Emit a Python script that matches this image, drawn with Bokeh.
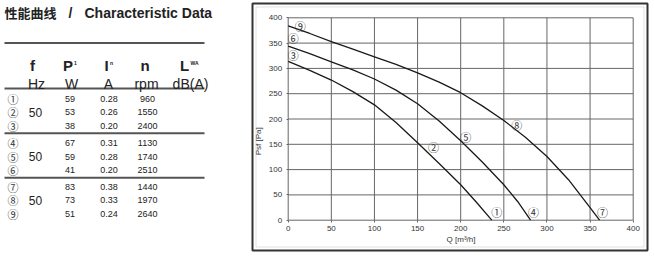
from bokeh.plotting import figure
from bokeh.layouts import row, column
from bokeh.models import Range1d, FixedTicker, BoxAnnotation
from bokeh.core.properties import value
from bokeh.embed import file_html
from bokeh.resources import INLINE

# ---------------- data ----------------
marks = ["①", "②", "③", "④", "⑤", "⑥", "⑦", "⑧", "⑨"]
freq = ["50", "50", "50"]
power_w = ["59", "53", "38", "67", "59", "41", "83", "73", "51"]
current_a = ["0.28", "0.26", "0.20", "0.31", "0.28", "0.20", "0.38", "0.33", "0.24"]
speed_rpm = ["960", "1550", "2400", "1130", "1740", "2510", "1440", "1970", "2640"]
units = ["Hz", "W", "A", "rpm", "dB(A)"]

q_curve3 = [0, 25, 50, 75, 100, 125, 150, 175, 200, 218, 236]
p_curve3 = [314, 296, 277, 254, 228, 193, 153, 112, 70, 36, 0]
q_curve6 = [0, 25, 50, 75, 100, 125, 150, 175, 200, 225, 250, 266, 281]
p_curve6 = [344, 329, 313, 297, 279, 257, 230, 196, 157, 115, 70, 37, 0]
q_curve9 = [0, 25, 50, 75, 100, 125, 150, 175, 200, 225, 250, 275, 300, 325, 350, 361]
p_curve9 = [384, 369, 353, 338, 323, 308, 291, 273, 252, 226, 197, 164, 126, 80, 25, 0]

start_marks = ["③", "⑥", "⑨"]
end_marks = ["①", "④", "⑦"]
mid_marks = ["②", "⑤", "⑧"]
mid_q = [150, 200, 250]
tick_values = [0, 50, 100, 150, 200, 250, 300, 350, 400]
y_title = "Psf [Pa]"
x_title = "Q [m³/h]"

FONT = value("Liberation Sans")
CJK = value("Noto Sans CJK SC")
INK = "#222222"

# ---------------- table (left) ----------------
t = figure(width=250, height=256, x_range=Range1d(0, 250), y_range=Range1d(256, 0),
           output_backend="svg", toolbar_location=None, title=None,
           x_axis_location=None, y_axis_location=None,
           min_border=0, outline_line_color=None)
t.grid.visible = False

t.text(x=[4], y=[12], text=["性能曲线"], text_font=CJK, text_font_style="bold",
       text_font_size="13px", text_baseline="middle", text_color=INK)
t.text(x=[70], y=[12], text=["/"], text_font=FONT, text_font_style="bold",
       text_font_size="14px", text_baseline="middle", text_align="center", text_color=INK)
t.text(x=[84], y=[12], text=["Characteristic Data"], text_font=FONT, text_font_style="bold",
       text_font_size="14px", text_baseline="middle", text_color=INK)

rule_y = [42.5, 88, 132.7, 177.3]
t.segment(x0=[4] * 4, x1=[204] * 4, y0=rule_y, y1=rule_y, line_width=2, line_color="#555555")

# header row 1
t.text(x=[32, 67.5, 106, 144.5, 184], y=[65] * 5, text=["f", "P", "I", "n", "L"],
       text_font=FONT, text_font_style="bold", text_font_size="15px",
       text_align="center", text_baseline="alphabetic", text_color=INK)
t.text(x=[75, 111, 194], y=[62] * 3, text=["1", "n", "WA"],
       text_font=FONT, text_font_style="bold", text_font_size="5px",
       text_align="center", text_baseline="alphabetic", text_color=INK)
# header row 2
t.text(x=[36, 71, 108, 146, 190], y=[83] * 5, text=units,
       text_font=FONT, text_font_size="14px",
       text_align="center", text_baseline="alphabetic", text_color=INK)

group_top = [98, 142.5, 186]
step = 13.5
row_y = [g + k * step for g in group_top for k in range(3)]
t.text(x=[12.5] * 9, y=row_y, text=marks, text_font=CJK, text_font_size="11px",
       text_align="center", text_baseline="middle", text_color="#333333")
t.text(x=[69.5] * 9, y=row_y, text=power_w, text_font=FONT, text_font_size="9px",
       text_align="center", text_baseline="middle", text_color=INK)
t.text(x=[108.5] * 9, y=row_y, text=current_a, text_font=FONT, text_font_size="9px",
       text_align="center", text_baseline="middle", text_color=INK)
t.text(x=[147] * 9, y=row_y, text=speed_rpm, text_font=FONT, text_font_size="9px",
       text_align="center", text_baseline="middle", text_color=INK)
t.text(x=[35] * 3, y=[g + step for g in group_top], text=freq, text_font=FONT,
       text_font_size="12px", text_align="center", text_baseline="middle", text_color=INK)

# ---------------- chart (right) ----------------
# The figure's frame is the framed panel; the 0..400 plot box sits inside it.
W, H = 404, 256
panel_l, panel_r, panel_t, panel_b = 2, 397, 3, 250        # canvas px of the panel frame
box_l, box_r, box_t, box_b = 37.7, 382.7, 17.3, 219.7      # canvas px of the 0..400 box
sx = (box_r - box_l) / 400.0
sy = (box_b - box_t) / 400.0
x_start = -(box_l - panel_l) / sx
x_end = 400 + (panel_r - box_r) / sx
y_start = -(panel_b - box_b) / sy
y_end = 400 + (box_t - panel_t) / sy

c = figure(width=W, height=H, x_range=Range1d(x_start, x_end), y_range=Range1d(y_start, y_end),
           output_backend="svg", toolbar_location=None, title=None,
           min_border_left=panel_l, min_border_right=W - panel_r,
           min_border_top=panel_t, min_border_bottom=H - panel_b)
c.background_fill_color = "white"
c.border_fill_color = "white"
c.outline_line_color = "#333333"
c.outline_line_width = 2
c.grid.visible = False

# inner thin frame line
inset = 3.5
c.add_layout(BoxAnnotation(left=x_start + inset / sx, right=x_end - inset / sx,
                           bottom=y_start + inset / sy, top=y_end - inset / sy,
                           fill_alpha=0, line_color="#9a9a9a", line_width=1))

# grid from the tick values
n_t = len(tick_values)
c.segment(x0=tick_values, x1=tick_values, y0=[0] * n_t, y1=[400] * n_t,
          line_color="#666666", line_width=1)
c.segment(x0=[0] * n_t, x1=[400] * n_t, y0=tick_values, y1=tick_values,
          line_color="#666666", line_width=1)

for ax in (c.xaxis[0], c.yaxis[0]):
    ax.fixed_location = 0
    ax.bounds = (0, 400)
    ax.ticker = FixedTicker(ticks=tick_values)
    ax.axis_line_color = None
    ax.major_tick_out = 2
    ax.major_tick_in = 0
    ax.major_tick_line_color = "#666666"
    ax.minor_tick_line_color = None
    ax.major_label_text_font = "Liberation Sans"
    ax.major_label_text_font_size = "8px"
    ax.major_label_text_color = "#333333"
    ax.major_label_standoff = 4
    ax.axis_label_text_font = "Liberation Sans"
    ax.axis_label_text_font_size = "8px"
    ax.axis_label_text_font_style = "normal"
    ax.axis_label_text_color = "#333333"
c.xaxis[0].axis_label = x_title
c.xaxis[0].axis_label_standoff = 0
# pad with no-break spaces so the rotated label sits lower, as in the reference
c.yaxis[0].axis_label = y_title + "\u00a0" * 20
c.yaxis[0].axis_label_standoff = 3

curves = [(q_curve3, p_curve3), (q_curve6, p_curve6), (q_curve9, p_curve9)]
for q, pv in curves:
    c.line(q, pv, line_color="#1a1a1a", line_width=1.3)

start_off = [(5, -6), (5, -8), (12, 0)]
end_off = [(5, -8), (3, -8), (3, -8)]
mid_off = [(16, 4), (5, -4), (13, 4)]
for i, (q, pv) in enumerate(curves):
    c.text(x=[q[0]], y=[pv[0]], text=[start_marks[i]], x_offset=start_off[i][0], y_offset=start_off[i][1],
           text_font=CJK, text_font_size="11px", text_align="center", text_baseline="middle",
           text_color="#333333")
    c.text(x=[q[-1]], y=[pv[-1]], text=[end_marks[i]], x_offset=end_off[i][0], y_offset=end_off[i][1],
           text_font=CJK, text_font_size="11px", text_align="center", text_baseline="middle",
           text_color="#333333")
    k = q.index(mid_q[i])
    c.text(x=[q[k]], y=[pv[k]], text=[mid_marks[i]], x_offset=mid_off[i][0], y_offset=mid_off[i][1],
           text_font=CJK, text_font_size="11px", text_align="center", text_baseline="middle",
           text_color="#333333")

layout = row(t, column(c))
open("out.html", "w").write(file_html(layout, INLINE))
